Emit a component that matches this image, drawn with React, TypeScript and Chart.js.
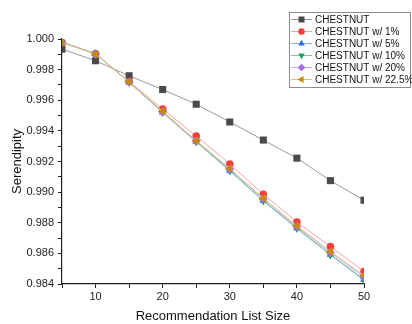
import React, { useEffect, useRef } from "react";
import { Chart, registerables } from "chart.js";

Chart.register(...registerables);

const listSizes = [5, 10, 15, 20, 25, 30, 35, 40, 45, 50];
const seriesNames = [
  "CHESTNUT",
  "CHESTNUT w/ 1%",
  "CHESTNUT w/ 5%",
  "CHESTNUT w/ 10%",
  "CHESTNUT w/ 20%",
  "CHESTNUT w/ 22.5%",
];
const chestnut = [0.99934, 0.99858, 0.9976, 0.9967, 0.99574, 0.99458, 0.9934, 0.99222, 0.99075, 0.98947];
const w1 = [0.99977, 0.99903, 0.99722, 0.99542, 0.99367, 0.99184, 0.98986, 0.98805, 0.98644, 0.98482];
const w5 = [0.99979, 0.99905, 0.99718, 0.99522, 0.9933, 0.99141, 0.98945, 0.98765, 0.98593, 0.9843];
const w10 = [0.99978, 0.99904, 0.99718, 0.9952, 0.99328, 0.99138, 0.98942, 0.98762, 0.9859, 0.98425];
const w20 = [0.99977, 0.99902, 0.9972, 0.99525, 0.99334, 0.9915, 0.98955, 0.98775, 0.98605, 0.98445];
const w225 = [0.99977, 0.99902, 0.99721, 0.99528, 0.99336, 0.99155, 0.9896, 0.9878, 0.98612, 0.98455];
const yTickMin = 0.984;
const yTickMax = 1.0;

const allValues = [chestnut, w1, w5, w10, w20, w225];
const markerColors = ["#4a4a4a", "#f23d3d", "#2a6fdc", "#1fa05a", "#a66ee8", "#c88a00"];
const lineColors = ["#9a9a9a", "#f4a3a3", "#80b0ea", "#7cc69c", "#c9aaf2", "#e2c272"];
const pointStyles = ["rect", "circle", "triangle", "triangle", "rectRot", "triangle"];
const rotations = [0, 0, 0, 180, 0, -90];
const radii = [5, 3.8, 4.5, 4.5, 4.5, 4.8];
const orders = [5, 4, 3, 2, 1, 0];

const FONT = "'Liberation Sans', Arial, sans-serif";

function drawMarker(ctx: CanvasRenderingContext2D, style: string, rot: number, r: number, x: number, y: number) {
  ctx.save();
  ctx.translate(x, y);
  ctx.rotate((rot * Math.PI) / 180);
  ctx.beginPath();
  if (style === "rect") {
    const s = Math.SQRT1_2 * r;
    ctx.rect(-s, -s, 2 * s, 2 * s);
  } else if (style === "circle") {
    ctx.arc(0, 0, r, 0, Math.PI * 2);
  } else if (style === "rectRot") {
    ctx.moveTo(0, -r);
    ctx.lineTo(r, 0);
    ctx.lineTo(0, r);
    ctx.lineTo(-r, 0);
    ctx.closePath();
  } else {
    const a = (r * 1.5) / Math.sqrt(3);
    ctx.moveTo(0, -r);
    ctx.lineTo(a, r * 0.5);
    ctx.lineTo(-a, r * 0.5);
    ctx.closePath();
  }
  ctx.fill();
  ctx.restore();
}

const legendPlugin = {
  id: "boxLegend",
  afterDraw(chart: any) {
    const ctx: CanvasRenderingContext2D = chart.ctx;
    ctx.save();
    ctx.strokeStyle = "#8c8c8c";
    ctx.lineWidth = 1;
    ctx.strokeRect(289.5, 12.5, 121, 75);
    ctx.font = `10px ${FONT}`;
    ctx.textBaseline = "middle";
    seriesNames.forEach((name, i) => {
      const y = 19.5 + 12 * i;
      ctx.strokeStyle = lineColors[i];
      ctx.beginPath();
      ctx.moveTo(291, y);
      ctx.lineTo(312, y);
      ctx.stroke();
      ctx.fillStyle = markerColors[i];
      drawMarker(ctx, pointStyles[i], rotations[i], radii[i] * 0.85, 301.5, y);
      ctx.fillStyle = "#111";
      ctx.fillText(name, 315, y + 0.5);
    });
    ctx.restore();
  },
};

export default function App() {
  const ref = useRef<HTMLCanvasElement>(null);
  useEffect(() => {
    if (!ref.current) return;
    const chart = new Chart(ref.current, {
      type: "line",
      data: {
        datasets: allValues.map((vals, i) => ({
          label: seriesNames[i],
          data: listSizes.map((x, j) => ({ x, y: vals[j] })),
          borderColor: lineColors[i],
          borderWidth: 1,
          backgroundColor: markerColors[i],
          pointBackgroundColor: markerColors[i],
          pointBorderWidth: 0,
          pointBorderColor: markerColors[i],
          pointStyle: pointStyles[i] as any,
          pointRotation: rotations[i],
          pointRadius: radii[i],
          pointHoverRadius: radii[i],
          order: orders[i],
          clip: 0,
          tension: 0,
        })),
      },
      options: {
        animation: false,
        responsive: false,
        maintainAspectRatio: false,
        layout: { padding: { left: 0, right: 48, top: 39, bottom: 0 } },
        plugins: { legend: { display: false }, tooltip: { enabled: false } },
        scales: {
          x: {
            type: "linear",
            min: 5,
            max: 50,
            afterFit: (s: any) => {
              s.height = 40;
            },
            ticks: {
              stepSize: 5,
              autoSkip: false,
              maxRotation: 0,
              color: "#222",
              font: { family: FONT, size: 11 },
              padding: 2,
              callback: (v: any) => (Math.round(v) % 10 === 0 ? String(v) : ""),
            },
            grid: {
              drawOnChartArea: false,
              drawTicks: true,
              tickLength: 4,
              color: "#222",
            },
            border: { color: "#222", width: 1.2 },
            title: {
              display: true,
              text: "Recommendation List Size",
              color: "#111",
              font: { family: FONT, size: 13 },
              padding: { top: 2, bottom: 0 },
            },
          },
          y: {
            type: "linear",
            min: yTickMin,
            max: yTickMax,
            afterFit: (s: any) => {
              s.width = 62;
            },
            ticks: {
              stepSize: 0.001,
              autoSkip: false,
              color: "#222",
              font: { family: FONT, size: 11 },
              padding: 4,
              callback: (v: any) => (Math.round(v * 1000) % 2 === 0 ? Number(v).toFixed(3) : ""),
            },
            grid: {
              drawOnChartArea: false,
              drawTicks: true,
              tickLength: 4,
              color: "#222",
            },
            border: { color: "#222", width: 1.2 },
            title: {
              display: true,
              text: "Serendipity",
              color: "#111",
              font: { family: FONT, size: 13 },
              padding: { top: 10, bottom: 0 },
            },
          },
        },
      },
      plugins: [legendPlugin],
    });
    return () => chart.destroy();
  }, []);
  return (
    <div style={{ position: "fixed", left: 0, top: 0, width: 412, height: 324, background: "#fff" }}>
      <canvas ref={ref} width={412} height={324} style={{ width: 412, height: 324 }} />
    </div>
  );
}
